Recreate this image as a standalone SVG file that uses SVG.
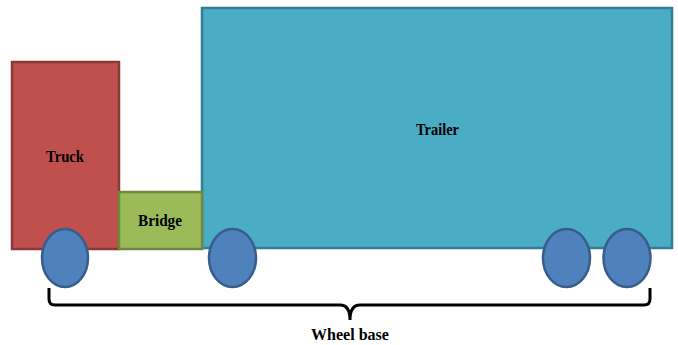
<svg xmlns="http://www.w3.org/2000/svg" width="678" height="345" viewBox="0 0 678 345">
<style>
.lbl{font-family:'Liberation Serif','DejaVu Serif',serif;font-weight:bold;font-size:17.5px;fill:#000;text-anchor:middle}
.wheel{fill:#4F81BD;stroke:#385D8A;stroke-width:2.5}
</style>
<rect width="678" height="345" fill="#fff"/>
<g id="trailer"><rect x="202" y="8" width="470" height="240" fill="#4BACC6" stroke="#357D91" stroke-width="2.5"/><text class="lbl" x="437.5" y="135" textLength="43" lengthAdjust="spacingAndGlyphs">Trailer</text></g>
<g id="truck"><rect x="12" y="62" width="107" height="187" fill="#C0504D" stroke="#8C3836" stroke-width="2.5"/><text class="lbl" x="65" y="161.5" textLength="38" lengthAdjust="spacingAndGlyphs">Truck</text></g>
<g id="bridge"><rect x="119" y="192" width="83" height="57" fill="#9BBB59" stroke="#71893F" stroke-width="2.5"/><text class="lbl" x="160" y="226" textLength="44" lengthAdjust="spacingAndGlyphs">Bridge</text></g>
<g id="wheel1"><ellipse class="wheel" cx="65" cy="258" rx="23" ry="29"/></g>
<g id="wheel2"><ellipse class="wheel" cx="232.5" cy="258" rx="23.5" ry="29"/></g>
<g id="wheel3"><ellipse class="wheel" cx="566.5" cy="258" rx="23.5" ry="29"/></g>
<g id="wheel4"><ellipse class="wheel" cx="627" cy="258" rx="23.5" ry="29"/></g>
<g id="connectors"><path d="M49,288 V299 Q49,305 55,305 H340 Q350,305 350,320 Q350,305 360,305 H644 Q650,305 650,299 V288" fill="none" stroke="#000" stroke-width="3"/></g>
<g id="wheelbase"><text class="lbl" x="350" y="340" textLength="78" lengthAdjust="spacingAndGlyphs">Wheel base</text></g>
</svg>
